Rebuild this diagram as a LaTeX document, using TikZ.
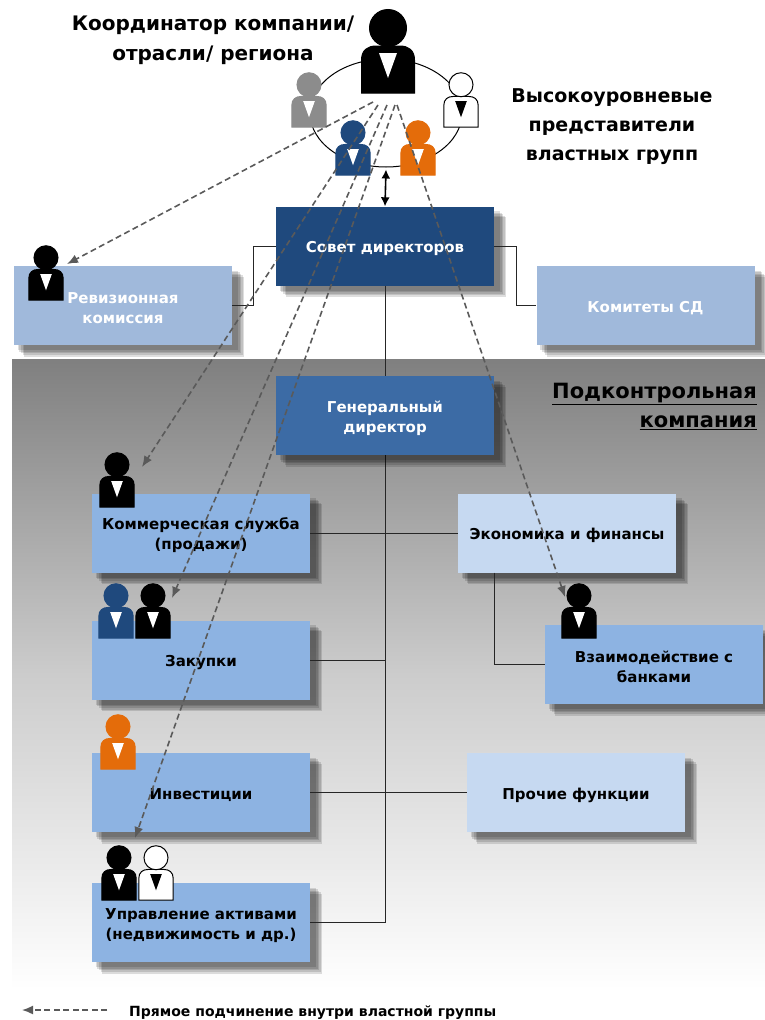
\documentclass[tikz,border=0pt]{standalone}
\usepackage{fontspec}
\setmainfont{DejaVu Sans}
\usetikzlibrary{calc,arrows.meta,shadows,shapes.geometric}

\definecolor{boardblue}{RGB}{31,73,125}
\definecolor{ceoblue}{RGB}{60,107,165}
\definecolor{paleblue}{RGB}{160,185,219}
\definecolor{midblue}{RGB}{141,179,226}
\definecolor{lightblue}{RGB}{198,217,241}
\definecolor{persorange}{RGB}{228,108,10}
\definecolor{persgray}{RGB}{140,140,140}
\definecolor{dashgray}{RGB}{90,90,90}

\tikzset{
	softshade/.style={general shadow={shadow xshift=#1, shadow yshift=-#1, shadow scale=1.01, fill=black, opacity=.13}},
	box/.style={minimum width=218pt, minimum height=79pt, align=center, inner sep=0pt, font=\bfseries\fontsize{15}{20}\selectfont,
		softshade=5pt, softshade=6.5pt, softshade=8pt, softshade=9.5pt, softshade=11pt},
	oneline/.style={box, execute at begin node={\rule{0pt}{17pt}}},
	twoline/.style={box, execute at begin node={\rule{0pt}{37pt}}},
	title/.style={align=center, font=\bfseries\fontsize{20}{30}\selectfont},
	link/.style={draw=black!85, line width=1pt},
	power/.style={-{Latex[length=11pt,width=9pt]}, dashgray, dash pattern=on 6pt off 3.5pt, line width=1.6pt},
	pics/person/.style n args={3}{code={
		\draw[fill=#1, draw=#2, line width=1pt] (-26.5,0) -- (-26.5,-33) .. controls (-26.5,-43) and (-20,-47) .. (-12,-47) -- (12,-47) .. controls (20,-47) and (26.5,-43) .. (26.5,-33) -- (26.5,0) -- cycle;
		\draw[fill=#1, draw=#2, line width=1pt] (0,-65) circle (18.5);
		\fill[#3] (-9,-40) -- (9,-40) -- (0,-15) -- cycle;
	}},
}

\begin{document}
\begin{tikzpicture}[x=1pt,y=-1pt]
	\useasboundingbox (0,0) rectangle (765,1020);
	\shade[top color=black!50, bottom color=white, middle color=black!20] (12,359) rectangle (765,990);

	\node[ellipse, draw, line width=1pt, minimum width=152pt, minimum height=108pt, inner sep=0pt] (ring) at (386,113) {};

	\node[oneline, fill=boardblue, text=white] (board) at (385,246) {Совет директоров};
	\node[twoline, fill=paleblue, text=white] (audit) at (123,305.5) {Ревизионная\\комиссия};
	\node[oneline, fill=paleblue, text=white] (committees) at (645.5,305.5) {Комитеты СД};
	\draw[link] (board.south) -- (385,376);
	\draw[link] (385,455) -- (385,922.5);
	\node[twoline, fill=ceoblue, text=white] (ceo) at (385,415.5) {Генеральный\\директор};
	\node[twoline, fill=midblue] (sales) at (201,533) {Коммерческая служба\\(продажи)};
	\node[oneline, fill=lightblue] (finance) at (567,533) {Экономика и финансы};
	\node[oneline, fill=midblue] (purchase) at (201,660) {Закупки};
	\node[twoline, fill=midblue] (banks) at (654,664.5) {Взаимодействие с\\банками};
	\node[oneline, fill=midblue] (invest) at (201,792.5) {Инвестиции};
	\node[oneline, fill=lightblue] (other) at (576,792.5) {Прочие функции};
	\node[twoline, fill=midblue] (assets) at (201,922.5) {Управление активами\\(недвижимость и др.)};

	% org lines
	\draw[link] (assets.east) -- (385,922.5);
	\draw[link] (board.west) -- ++(-22,0) |- (audit.east);
	\draw[link] (board.east) -- ++(22,0) |- (committees.west);
	\draw[link] (sales.east) -- (finance.west);
	\draw[link] (purchase.east) -- (385,660);
	\draw[link] (invest.east) -- (other.west);
	\draw[link] ($(finance.south west)+(37,0)$) |- (banks.west);
	\draw[{Latex[length=9pt,width=9pt]}-{Latex[length=9pt,width=9pt]}, line width=1.6pt] ($(ring.south)+(0,2)$) -- (board.north);

	% people
	\pic at (388,93) {person={black}{black}{white}};
	\pic[scale=.65] at (309,127) {person={persgray}{persgray}{white}};
	\pic[scale=.65] at (461,127) {person={white}{black}{black}};
	\pic[scale=.65] at (353,175) {person={boardblue}{boardblue}{white}};
	\pic[scale=.65] at (418,175) {person={persorange}{persorange}{white}};
	\pic[scale=.65] at (46,300) {person={black}{black}{white}};
	\pic[scale=.65] at (117,507) {person={black}{black}{white}};
	\pic[scale=.65] at (116,638) {person={boardblue}{boardblue}{white}};
	\pic[scale=.65] at (153,638) {person={black}{black}{white}};
	\pic[scale=.65] at (579,638) {person={black}{black}{white}};
	\pic[scale=.65] at (118,769) {person={persorange}{persorange}{white}};
	\pic[scale=.65] at (119,900) {person={black}{black}{white}};
	\pic[scale=.65] at (156,900) {person={white}{black}{black}};

	% power lines
	\coordinate (from1) at (373,102);
	\coordinate (from2) at (378,105);
	\coordinate (from3) at (387,105);
	\coordinate (from4) at (395,105);
	\coordinate (from5) at (397,105);
	\coordinate (to1) at (67,264);
	\coordinate (to2) at (142,467);
	\coordinate (to3) at (172,598);
	\coordinate (to4) at (135,838);
	\coordinate (to5) at (565,597);
	\foreach \i in {1,...,5}
		\draw[power] (from\i) -- (to\i);

	% titles
	\node[title] (coord) at (213,40) {Координатор компании/\\отрасли/ региона};
	\node[title, font=\bfseries\fontsize{19}{29}\selectfont] (elite) at (612,127) {Высокоуровневые\\представители\\властных групп};
	\node[title, align=right, anchor=east, inner sep=0pt, font=\bfseries\fontsize{21}{29}\selectfont] (sub) at (757,406) {\underline{Подконтрольная}\\\underline{компания}};

	% legend
	\coordinate (key1) at (107,1010);
	\coordinate (key2) at (22,1010);
	\draw[power] (key1) -- (key2);
	\node[anchor=west, inner sep=0pt, font=\bfseries\fontsize{14}{16}\selectfont] (keytext) at (129,1013) {Прямое подчинение внутри властной группы};
\end{tikzpicture}
\end{document}
